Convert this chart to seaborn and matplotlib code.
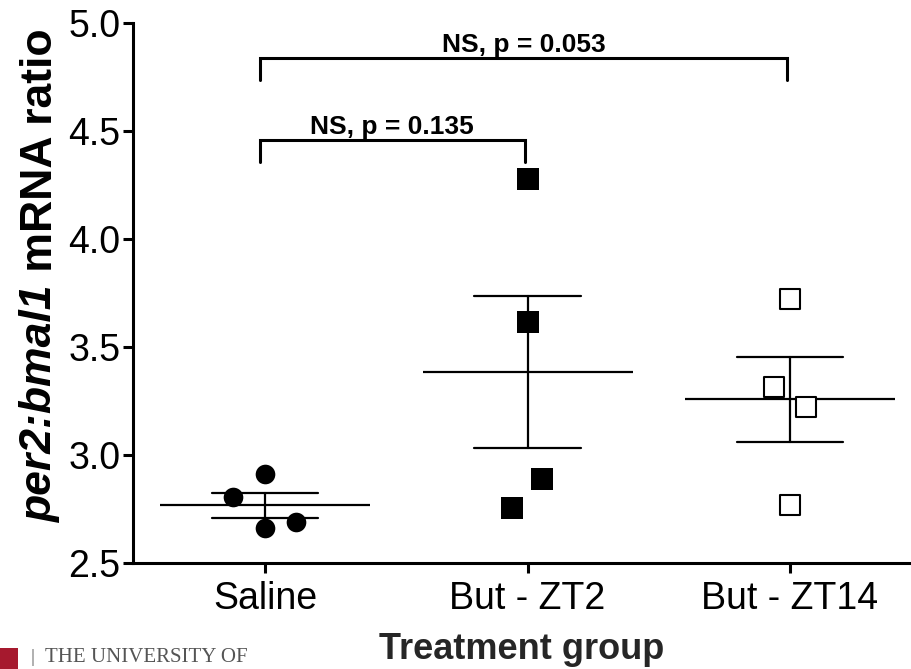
import numpy as np
import pandas as pd
import matplotlib
matplotlib.use("Agg")
import matplotlib.pyplot as plt
from matplotlib.patches import Rectangle
import seaborn as sns

# ---- data ----
groups = ["Saline", "But - ZT2", "But - ZT14"]
saline = [2.806, 2.912, 2.662, 2.690]
but_zt2 = [4.278, 3.616, 2.889, 2.755]
but_zt14 = [3.722, 3.315, 3.222, 2.769]
# horizontal scatter of the individual points (category units)
jitter_saline = [-0.122, 0.0, 0.0, 0.118]
jitter_zt2 = [0.0, 0.0, 0.057, -0.061]
jitter_zt14 = [0.0, -0.061, 0.061, 0.0]
yticks = [2.5, 3.0, 3.5, 4.0, 4.5, 5.0]
comparisons = [("Saline", "But - ZT14", "NS, p = 0.053"),
               ("Saline", "But - ZT2", "NS, p = 0.135")]

sns.set_theme(style="ticks")
plt.rcParams["font.family"] = ["Liberation Sans", "DejaVu Sans"]

W, H = 911, 669
fig = plt.figure(figsize=(W / 100, H / 100), dpi=100)
ax = fig.add_axes([133 / W, 1 - 563 / H, 1 - 133 / W, (563 - 23) / H])

values = [saline, but_zt2, but_zt14]
jitters = [jitter_saline, jitter_zt2, jitter_zt14]
rows = []
for gi, (g, vals, jit) in enumerate(zip(groups, values, jitters)):
    for v, j in zip(vals, jit):
        rows.append({"group": g, "value": v, "xpos": gi + j})
df = pd.DataFrame(rows)

# mean line + SEM
sns.pointplot(data=df, x="group", y="value", order=groups, errorbar="se",
              capsize=0.404, color="black", linestyle="none", marker="_",
              markersize=151, markeredgewidth=1.6,
              err_kws={"linewidth": 1.6}, ax=ax, zorder=2)

# individual points
d0 = df[df.group == "Saline"]
d1 = df[df.group == "But - ZT2"]
d2 = df[df.group == "But - ZT14"]
sns.scatterplot(data=d0, x="xpos", y="value", marker="o", s=200,
                color="black", edgecolor="black", linewidth=0, ax=ax, zorder=4)
sns.scatterplot(data=d1, x="xpos", y="value", marker="s", s=245,
                color="black", edgecolor="black", linewidth=0, ax=ax, zorder=4)
sns.scatterplot(data=d2, x="xpos", y="value", marker="s", s=215,
                facecolor="white", edgecolor="black", linewidth=1.5, ax=ax, zorder=4)

# significance brackets
bracket_levels = [(4.838, 4.736), (4.458, 4.356)]
for (g1, g2, label), (top, bottom) in zip(comparisons, bracket_levels):
    x1 = groups.index(g1) - 0.02
    x2 = groups.index(g2) - 0.01
    ax.plot([x1, x1, x2, x2], [bottom, top, top, bottom], color="black",
            lw=2.2, solid_joinstyle="miter", clip_on=False, zorder=3)
    ax.text((x1 + x2) / 2, top + 0.03, label, ha="center", va="baseline",
            fontsize=19, fontweight="bold", color="black")

ax.set_xlim(-0.503, 2.461)
ax.set_ylim(2.5, 5.0)
ax.set_yticks(yticks)
ax.set_yticklabels([f"{t:.1f}" for t in yticks])
ax.set_xticks(range(len(groups)))
ax.set_xticklabels(groups)
ax.set_xlabel("Treatment group", fontsize=26, fontweight="bold", labelpad=11)
ax.set_ylabel("")
for s in ["top", "right"]:
    ax.spines[s].set_visible(False)
for s in ["left", "bottom"]:
    ax.spines[s].set_linewidth(2.2)
    ax.spines[s].set_color("black")
ax.tick_params(axis="both", labelsize=27, width=2.2, length=7, colors="black")
ax.tick_params(axis="y", pad=2)
ax.tick_params(axis="x", pad=6)
ax.set_facecolor("white")
fig.patch.set_facecolor("white")

# y label with italic gene names
fig.canvas.draw()
r = fig.canvas.get_renderer()
fs = 32
xb = 52 / W
t1 = fig.text(xb, 0, "per2:bmal1", rotation=90, rotation_mode="anchor",
              ha="left", va="baseline", fontsize=fs, fontweight="bold",
              fontstyle="italic", color="black")
t2 = fig.text(xb, 0, " mRNA ratio", rotation=90, rotation_mode="anchor",
              ha="left", va="baseline", fontsize=fs, fontweight="bold",
              color="black")
L1 = t1.get_window_extent(r).height
L2 = t2.get_window_extent(r).height
yc = H - 275
y0 = yc - (L1 + L2) / 2
t1.set_position((xb, y0 / H))
t2.set_position((xb, (y0 + L1) / H))

# university logo fragment
fig.patches.append(Rectangle((0, 0), 18 / W, 21 / H, transform=fig.transFigure,
                             facecolor="#a6192e", edgecolor="none"))
fig.text(30 / W, 7 / H, "|", fontsize=14, color="#666666",
         family=["Liberation Serif", "DejaVu Serif"], va="baseline")
fig.text(45 / W, 7 / H, "THE UNIVERSITY OF", fontsize=15, color="#555555",
         family=["Liberation Serif", "DejaVu Serif"], va="baseline")

fig.savefig("out.png", dpi=100, facecolor="white")
